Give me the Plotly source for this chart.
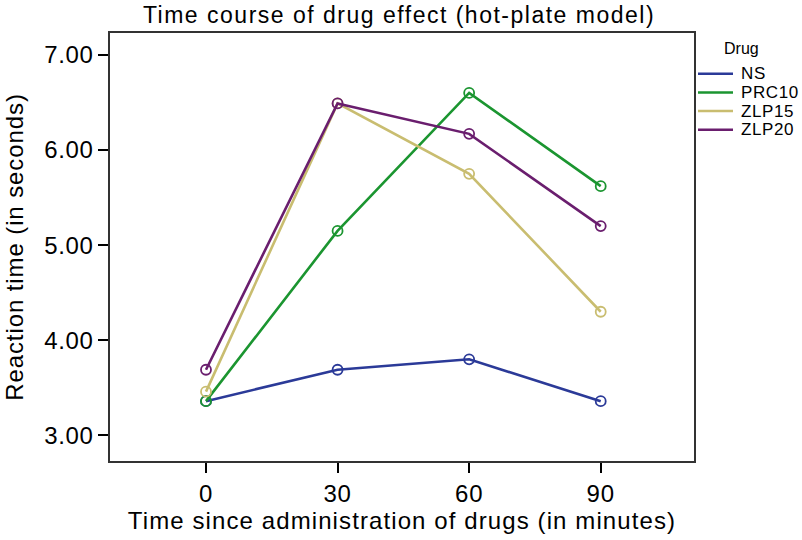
import plotly.graph_objects as go

times = [0, 30, 60, 90]
drugs = ["NS", "PRC10", "ZLP15", "ZLP20"]
ns = [3.36, 3.69, 3.80, 3.36]
prc10 = [3.36, 5.15, 6.60, 5.62]
zlp15 = [3.46, 6.49, 5.75, 4.30]
zlp20 = [3.69, 6.49, 6.17, 5.20]
series = [ns, prc10, zlp15, zlp20]
colors = ["#2b3a98", "#1b9530", "#c9bd70", "#6a1e6e"]
y_ticks = [3, 4, 5, 6, 7]

W, H = 802, 540
L, R, T, B = 110, 108, 33, 77
PW, PH = W - L - R, H - T - B


def px(xp):
    return (xp - L) / PW


def py(yp):
    return 1 - (yp - T) / PH


def spaced(s, sp):
    return f'<span style="letter-spacing:{sp}px">{s}</span>'


font = "Liberation Sans, Arial, sans-serif"
fig = go.Figure()
for name, vals, col in zip(drugs, series, colors):
    fig.add_trace(go.Scatter(
        x=times, y=vals, name=name, mode="lines+markers", showlegend=False,
        line=dict(color=col, width=2.6),
        marker=dict(symbol="circle-open", size=10, color=col, line=dict(width=1.8, color=col)),
    ))

# legend (drawn in paper coordinates)
shapes = []
annotations = [dict(text="Drug", xref="paper", yref="paper", x=px(722), y=py(49),
                    xanchor="left", yanchor="middle", showarrow=False,
                    font=dict(size=16, family=font, color="black"))]
for i, (name, col) in enumerate(zip(drugs, colors)):
    yy = py(74 + i * 18.7)
    shapes.append(dict(type="line", xref="paper", yref="paper", x0=px(698), x1=px(733),
                       y0=yy, y1=yy, line=dict(color=col, width=2.5)))
    annotations.append(dict(text=spaced(name, 0.6), xref="paper", yref="paper", x=px(739), y=yy,
                            xanchor="left", yanchor="middle", showarrow=False,
                            font=dict(size=17, family=font, color="black")))

fig.update_layout(
    width=W, height=H,
    margin=dict(l=L, r=R, t=T, b=B),
    paper_bgcolor="white", plot_bgcolor="white",
    font=dict(family=font, color="black"),
    title=dict(text=spaced("Time course of drug effect (hot-plate model)", 1.5), x=0.4975, xanchor="center",
               y=0.973, yanchor="middle", font=dict(size=23, family=font, color="black")),
    showlegend=False,
    shapes=shapes,
    annotations=annotations,
)
fig.update_xaxes(
    range=[-21.89, 111.27], tickvals=times, ticktext=[spaced(str(t), 0.8) for t in times],
    ticks="outside", ticklen=10, tickwidth=1.5, tickcolor="black",
    showline=True, linecolor="#333", linewidth=1.5, mirror=True,
    showgrid=False, zeroline=False,
    tickfont=dict(size=24),
    title=dict(text=spaced("Time since administration of drugs (in minutes)", 1.1), font=dict(size=24), standoff=5),
)
fig.update_yaxes(
    range=[2.731, 7.230], tickvals=y_ticks, ticktext=[spaced(f"{v:.2f}", 0.6) for v in y_ticks],
    ticks="outside", ticklen=10, tickwidth=1.5, tickcolor="black",
    showline=True, linecolor="#333", linewidth=1.5, mirror=True,
    showgrid=False, zeroline=False,
    tickfont=dict(size=24),
    title=dict(text=spaced("Reaction time (in seconds)", 0.9), font=dict(size=24), standoff=14),
)

fig.write_html("out.html", config={"displayModeBar": False},
               post_script="document.body.style.margin='0';")
